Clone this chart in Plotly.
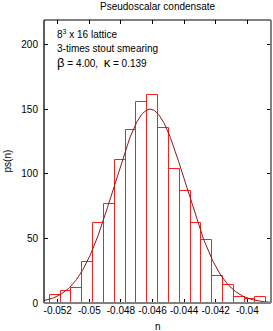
import plotly.graph_objects as go
import numpy as np

# Histogram data (bin centres and counts)
bin_start = -0.0525
bin_width = 0.000685
counts = [6, 9, 12, 32, 62, 77, 111, 134, 156, 161, 136, 104, 87, 62, 49, 21, 14, 5, 3, 5]
bin_centers = [bin_start + bin_width * (i + 0.5) for i in range(len(counts))]

# Gaussian fit parameters
fit_amp = 150.2
fit_mu = -0.04615
fit_sigma = 0.00227
fit_x = np.linspace(-0.0529, -0.0385, 300)
fit_y = fit_amp * np.exp(-0.5 * ((fit_x - fit_mu) / fit_sigma) ** 2)

x_ticks = [-0.052, -0.05, -0.048, -0.046, -0.044, -0.042, -0.04]
x_ticktext = ["-0.052", "-0.05", "-0.048", "-0.046", "-0.044", "-0.042", "-0.04"]
y_ticks = [0, 50, 100, 150, 200]

FONT = "Liberation Sans, Arial, sans-serif"

fig = go.Figure()
fig.add_trace(go.Bar(
    x=bin_centers, y=counts, width=bin_width,
    marker=dict(color="rgba(0,0,0,0)", line=dict(color="rgb(255,30,30)", width=1)),
    showlegend=False, hoverinfo="skip",
))
fig.add_trace(go.Scatter(
    x=fit_x, y=fit_y, mode="lines",
    line=dict(color="rgb(150,20,20)", width=1),
    showlegend=False, hoverinfo="skip",
))

fig.update_layout(
    width=273, height=331,
    margin=dict(l=44, r=2, t=20, b=28),
    paper_bgcolor="white", plot_bgcolor="white",
    font=dict(family=FONT, size=10, color="black"),
    bargap=0,
    xaxis=dict(
        range=[-0.05287, -0.0385], tickvals=x_ticks, ticktext=x_ticktext,
        ticks="inside", ticklen=4, tickcolor="black", mirror="ticks",
        showline=False, showgrid=False, zeroline=False,
        tickfont=dict(size=10, family=FONT), ticklabelstandoff=0,
    ),
    yaxis=dict(
        range=[0, 219.3], tickvals=y_ticks,
        ticks="inside", ticklen=4, tickcolor="black", mirror="ticks",
        showline=False, showgrid=False, zeroline=False,
        tickfont=dict(size=10, family=FONT), ticklabelstandoff=5,
    ),
    shapes=[
        dict(type="line", xref="paper", yref="paper", x0=0, x1=0, y0=0, y1=1,
             line=dict(color="rgb(40,40,40)", width=1.5)),
        dict(type="line", xref="paper", yref="paper", x0=0, x1=1, y0=1, y1=1,
             line=dict(color="black", width=1)),
        dict(type="line", xref="paper", yref="paper", x0=1, x1=1, y0=0, y1=1,
             line=dict(color="rgb(130,130,130)", width=2)),
        dict(type="line", xref="paper", yref="paper", x0=0, x1=1, y0=0, y1=0,
             line=dict(color="rgb(130,130,130)", width=2)),
    ],
    annotations=[
        dict(text="Pseudoscalar condensate", xref="paper", yref="paper",
             x=0.5, y=1, yshift=14, xanchor="center", yanchor="middle",
             showarrow=False, font=dict(size=10)),
        dict(text="8<sup>3</sup> x 16 lattice", xref="paper", yref="paper",
             x=0.05, y=1, yshift=-14, xanchor="left", yanchor="middle",
             showarrow=False, font=dict(size=10)),
        dict(text="3-times stout smearing", xref="paper", yref="paper",
             x=0.05, y=1, yshift=-28, xanchor="left", yanchor="middle",
             showarrow=False, font=dict(size=10)),
        dict(text="<span style='font-size:13px'>β</span> = 4.00,  <span style='font-size:13px'>κ</span> = 0.139",
             xref="paper", yref="paper",
             x=0.05, y=1, yshift=-42, xanchor="left", yanchor="middle",
             showarrow=False, font=dict(size=10)),
        dict(text="n", xref="paper", yref="paper",
             x=0.5, y=0, yshift=-23, xanchor="center", yanchor="middle",
             showarrow=False, font=dict(size=10)),
        dict(text="ps(n)", xref="paper", yref="paper",
             x=0, xshift=-37, y=0.5, xanchor="center", yanchor="middle",
             textangle=-90, showarrow=False, font=dict(size=10)),
    ],
)

fig.write_html("out.html", config={"displayModeBar": False},
               post_script="document.body.style.margin='0';")
